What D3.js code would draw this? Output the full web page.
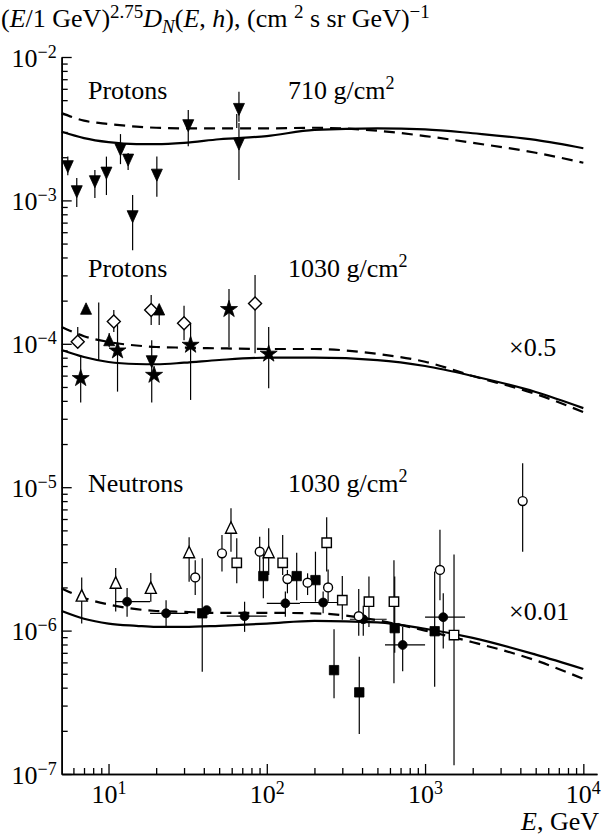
<!DOCTYPE html>
<html>
<head>
<meta charset="utf-8">
<script src="https://cdn.jsdelivr.net/npm/d3@7"></script>
<style>
body { margin: 0; background: #fff; }
text { font-family: "Liberation Serif", "Times New Roman", serif; fill: #000; }
</style>
</head>
<body>
<div id="chart-area"></div>
<script>
// ---- data ----
// model curves, sampled at these energies (GeV)
var curveE = [5.06, 7, 10, 15, 20, 30, 50, 100, 200, 500, 1000, 2000, 5000, 10000];
var c710Solid = [3.01e-3, 2.72e-3, 2.55e-3, 2.47e-3, 2.47e-3, 2.52e-3, 2.67e-3, 2.81e-3, 3.10e-3, 3.18e-3, 3.13e-3, 2.94e-3, 2.64e-3, 2.31e-3];
var c710Dash = [4.06e-3, 3.60e-3, 3.41e-3, 3.27e-3, 3.21e-3, 3.18e-3, 3.18e-3, 3.18e-3, 3.21e-3, 3.06e-3, 2.81e-3, 2.52e-3, 2.15e-3, 1.83e-3];
var c1030Solid = [9.06e-5, 8.09e-5, 7.47e-5, 7.23e-5, 7.2e-5, 7.38e-5, 7.71e-5, 8.0e-5, 8.0e-5, 7.7e-5, 7.0e-5, 5.96e-5, 4.61e-5, 3.56e-5];
var c1030Dash = [1.31e-4, 1.13e-4, 1.03e-4, 9.73e-5, 9.5e-5, 9.4e-5, 9.3e-5, 9.2e-5, 9.2e-5, 8.5e-5, 7.5e-5, 5.96e-5, 4.47e-5, 3.34e-5];
var cNeutSolid = [1.37e-6, 1.21e-6, 1.12e-6, 1.08e-6, 1.06e-6, 1.06e-6, 1.08e-6, 1.12e-6, 1.17e-6, 1.14e-6, 1.03e-6, 8.9e-7, 6.8e-7, 5.4e-7];
var cNeutDash = [1.97e-6, 1.69e-6, 1.52e-6, 1.41e-6, 1.37e-6, 1.35e-6, 1.33e-6, 1.33e-6, 1.32e-6, 1.18e-6, 1.00e-6, 8.3e-7, 6.2e-7, 4.6e-7];

// measurements: [E, value, lower, upper]  (protons 710 g/cm2)
var p710Down = [
    [5.53, 1.72e-3, 1.50e-3, 2.02e-3], [6.3, 1.15e-3, 9.0e-4, 1.43e-3],
    [8.2, 1.35e-3, 1.04e-3, 1.63e-3], [9.7, 1.55e-3, 1.09e-3, 2.02e-3],
    [11.9, 2.25e-3, 1.79e-3, 2.9e-3], [13.3, 1.91e-3, 1.63e-3, 2.14e-3],
    [14.2, 7.7e-4, 4.5e-4, 1.09e-3], [20.2, 1.50e-3, 1.06e-3, 2.02e-3],
    [31.9, 3.32e-3, 2.39e-3, 4.27e-3], [66.7, 4.31e-3, 3.54e-3, 5.73e-3],
    [66.7, 2.47e-3, 1.39e-3, 3.47e-3]
];
var p710Bars = [[64.6, 3.2e-3, 4.0e-3]];

// protons 1030 g/cm2 (x0.5)
var p1030Diamond = [
    [6.39, 1.035e-4, 9.5e-5, 1.31e-4], [10.8, 1.43e-4, 1.21e-4, 1.72e-4],
    [18.6, 1.72e-4, 1.35e-4, 2.19e-4], [30.0, 1.39e-4, 1.06e-4, 1.84e-4],
    [84.3, 1.91e-4, 8.6e-5, 3.02e-4]
];
var p1030Up = [[7.21, 1.74e-4, null, null], [10.1, 1.05e-4, 9.5e-5, 1.19e-4], [20.9, 1.72e-4, 1.35e-4, 1.87e-4]];
var p1030Star = [
    [6.67, 5.74e-5, 3.9e-5, 8.35e-5], [11.4, 8.95e-5, 4.64e-5, 1.35e-4],
    [19.4, 6.05e-5, null, null], [33.0, 9.8e-5, 4.06e-5, 1.40e-4],
    [57.7, 1.74e-4, 9.46e-5, 2.41e-4], [102.8, 8.5e-5, 4.9e-5, 1.31e-4]
];
var p1030Down = [[18.75, 7.5e-5, 3.9e-5, 1.06e-4]];
var p1030Bars = [[8.67, 7.7e-5, 1.94e-4]];

// neutrons 1030 g/cm2 (x0.01)
var nOpenTri = [
    [6.77, 1.74e-6, 1.12e-6, 2.35e-6], [11.1, 2.14e-6, 1.36e-6, 2.73e-6],
    [18.5, 1.97e-6, 1.59e-6, 2.52e-6], [32.3, 3.49e-6, 2.19e-6, 4.48e-6],
    [59.4, 5.17e-6, 3.55e-6, 7.13e-6], [102.8, 3.49e-6, 2.44e-6, 5.17e-6]
];
// [E, value, lower, upper, Elow, Ehigh]
var nFilledCircle = [
    [13.1, 1.59e-6, 1.25e-6, 1.98e-6, 11.0, 18.3], [23.1, 1.32e-6, 1.06e-6, 1.63e-6, 18.3, 31.9],
    [41.7, 1.39e-6, null, null, null, null], [72.4, 1.26e-6, 9.8e-7, 1.59e-6, 55.8, 99.9],
    [131, 1.55e-6, 1.25e-6, 1.87e-6, 100, 162], [227, 1.57e-6, 1.32e-6, 1.87e-6, 162, 297],
    [407, 1.20e-6, 9.2e-7, 1.49e-6, 335, 572], [722, 7.94e-7, 5.2e-7, 1.06e-6, 558, 1000],
    [1303, 1.24e-6, 7.5e-7, 1.82e-6, 1000, 1789]
];
var nFilledSquare = [
    [39.1, 1.32e-6, 5.17e-7, 3.2e-6], [95.1, 2.40e-6, 1.68e-6, 3.55e-6],
    [154.5, 2.40e-6, 1.63e-6, 3.49e-6], [203, 2.25e-6, 1.59e-6, 3.55e-6],
    [266, 5.3e-7, 3.37e-7, 1.02e-6], [384, 3.71e-7, 1.9e-7, 6.58e-7],
    [643, 1.04e-6, 7.0e-7, 2.38e-6], [1150, 9.9e-7, 4.06e-7, 2.58e-6]
];
var nOpenSquare = [
    [64.6, 2.97e-6, 2.14e-6, 4.4e-6], [126, 2.97e-6, 2.44e-6, 4.65e-6],
    [239, 4.10e-6, 2.58e-6, 6.17e-6], [300, 1.63e-6, 1.19e-6, 2.40e-6],
    [442, 1.59e-6, 1.06e-6, 2.38e-6], [636, 1.59e-6, 4.3e-7, 3.1e-6],
    [1524, 9.3e-7, 1.15e-7, 3.4e-6]
];
var nOpenCircle = [
    [35.3, 2.35e-6, 1.77e-6, 3.1e-6], [52.1, 3.46e-6, 2.58e-6, 4.65e-6],
    [90.2, 3.55e-6, 2.38e-6, 4.52e-6], [135, 2.29e-6, 1.82e-6, 2.65e-6],
    [181, 2.16e-6, 1.77e-6, 2.51e-6], [244, 2.0e-6, 1.59e-6, 2.67e-6],
    [381, 1.26e-6, 9.2e-7, 1.95e-6], [1242, 2.65e-6, 1.63e-6, 5.04e-6],
    [4137, 8.0e-6, 3.55e-6, 1.47e-5]
];

var yMajor = [1e-7, 1e-6, 1e-5, 1e-4, 1e-3, 1e-2];
var xMajor = [10, 100, 1000, 10000];

// ---- layout ----
var W = 602, H = 838;
var plotL = 61.7, plotR = 597, plotT = 57, plotB = 774;

var svg = d3.select("#chart-area").append("svg")
    .attr("width", W)
    .attr("height", H);

var x = d3.scaleLog().domain([5.06, 12200]).range([plotL, plotR]);
var y = d3.scaleLog().domain([1e-7, 1e-2]).range([plotB, plotT]);

// minor ticks
var yMinor = [];
for (var p = -7; p < -2; p++) for (var k = 2; k <= 9; k++) yMinor.push(k * Math.pow(10, p));
var xMinor = [];
for (var q = 0; q < 4; q++) for (var m = 2; m <= 9; m++) {
    var v = m * Math.pow(10, q);
    if (v > 5.06 && v < 12200) xMinor.push(v);
}

function styleAxis(sel) {
    sel.select(".domain").attr("stroke", "#000").attr("stroke-width", 1.6);
    sel.selectAll(".tick line").attr("stroke", "#000").attr("stroke-width", 1.3);
}

svg.append("g").attr("transform", "translate(" + plotL + ",0)")
    .call(d3.axisLeft(y).tickValues(yMinor).tickSize(-6).tickSizeOuter(0).tickFormat(""))
    .call(styleAxis);
var yAx = svg.append("g").attr("transform", "translate(" + plotL + ",0)")
    .call(d3.axisLeft(y).tickValues(yMajor).tickSize(-10).tickSizeOuter(0).tickPadding(6))
    .call(styleAxis);
yAx.selectAll(".tick text").each(function (d) {
    var t = d3.select(this).text(null)
        .attr("font-size", "26px").attr("x", -5).attr("dy", "0.35em");
    t.append("tspan").text("10");
    t.append("tspan").attr("dy", "-0.5em").attr("font-size", "18px")
        .text("\u2212" + Math.round(-Math.log10(d)));
});

svg.append("g").attr("transform", "translate(0," + plotB + ")")
    .call(d3.axisBottom(x).tickValues(xMinor).tickSize(-6).tickSizeOuter(0).tickFormat(""))
    .call(styleAxis);
var xAx = svg.append("g").attr("transform", "translate(0," + plotB + ")")
    .call(d3.axisBottom(x).tickValues(xMajor).tickSize(-10).tickSizeOuter(0))
    .call(styleAxis);
xAx.selectAll(".tick text").each(function (d) {
    var t = d3.select(this).text(null)
        .attr("font-size", "26px").attr("y", 29).attr("dy", 0);
    if (d === 10000) t.attr("text-anchor", "end").attr("x", 17);
    t.append("tspan").text("10");
    t.append("tspan").attr("dy", "-0.5em").attr("font-size", "18px")
        .text(Math.round(Math.log10(d)));
});

// axis titles
var title = svg.append("text").attr("x", 1).attr("y", 27).attr("font-size", "26px");
title.append("tspan").text("(");
title.append("tspan").attr("font-style", "italic").text("E");
title.append("tspan").text("/1 GeV)");
title.append("tspan").attr("dy", -9).attr("font-size", "19px").text("2.75");
title.append("tspan").attr("dy", 9).attr("font-style", "italic").text("D");
title.append("tspan").attr("dy", 6).attr("font-size", "19px").attr("font-style", "italic").text("N");
title.append("tspan").attr("dy", -6).text("(");
title.append("tspan").attr("font-style", "italic").text("E");
title.append("tspan").text(", ");
title.append("tspan").attr("font-style", "italic").text("h");
title.append("tspan").text("), (cm ");
title.append("tspan").attr("dy", -9).attr("font-size", "19px").text("2");
title.append("tspan").attr("dy", 9).text(" s sr GeV)");
title.append("tspan").attr("dy", -9).attr("font-size", "19px").text("\u22121");

var xt = svg.append("text").attr("x", 599).attr("y", 830)
    .attr("text-anchor", "end").attr("font-size", "26px");
xt.append("tspan").attr("font-style", "italic").text("E");
xt.append("tspan").text(", GeV");

// panel labels
function label(tx, ty, main, sup) {
    var t = svg.append("text").attr("x", tx).attr("y", ty).attr("font-size", "26px");
    t.append("tspan").text(main);
    if (sup) t.append("tspan").attr("dy", -10).attr("font-size", "18px").text(sup);
}
label(88, 99, "Protons");
label(288, 99, "710 g/cm", "2");
label(88, 277, "Protons");
label(288, 277, "1030 g/cm", "2");
label(509, 356, "\u00d70.5");
label(88, 492, "Neutrons");
label(288, 492, "1030 g/cm", "2");
label(509, 620, "\u00d70.01");

// ---- curves ----
var line = d3.line()
    .x(function (d) { return x(d[0]); })
    .y(function (d) { return y(d[1]); })
    .curve(d3.curveMonotoneX);
function curve(vals, dashed) {
    svg.append("path")
        .datum(curveE.map(function (e, i) { return [e, vals[i]]; }))
        .attr("d", line)
        .attr("fill", "none")
        .attr("stroke", "#000")
        .attr("stroke-width", 2.2)
        .attr("stroke-dasharray", dashed ? "11,7" : null);
}
curve(c710Solid, false); curve(c710Dash, true);
curve(c1030Solid, false); curve(c1030Dash, true);
curve(cNeutSolid, false); curve(cNeutDash, true);

// ---- error bars and markers ----
var bars = svg.append("g").attr("stroke", "#000").attr("stroke-width", 1.2);
function vbar(d) {
    if (d[2] == null) return;
    bars.append("line")
        .attr("x1", x(d[0])).attr("x2", x(d[0]))
        .attr("y1", y(d[2])).attr("y2", y(d[3]));
}
function hbar(d) {
    if (d[4] == null) return;
    bars.append("line")
        .attr("x1", x(d[4])).attr("x2", x(d[5]))
        .attr("y1", y(d[1])).attr("y2", y(d[1]));
}
[p710Bars, p1030Bars].forEach(function (arr) {
    arr.forEach(function (d) { vbar([d[0], null, d[1], d[2]]); });
});

var shapes = {
    down: "M-5.5,-6L5.5,-6L0,6Z",
    up: "M-5.5,5L5.5,5L0,-6.5Z",
    diamond: "M0,-6.5L6.5,0L0,6.5L-6.5,0Z",
    square: "M-4.7,-4.7H4.7V4.7H-4.7Z",
    circle: d3.symbol(d3.symbolCircle, 62)(),
    star: d3.symbol(d3.symbolStar, 90)()
};
var marks = svg.append("g");
function series(arr, shape, filled) {
    arr.forEach(function (d) { vbar(d); hbar(d); });
    marks.selectAll(null)
        .data(arr)
        .enter()
        .append("path")
        .attr("d", shapes[shape])
        .attr("transform", function (d) { return "translate(" + x(d[0]) + "," + y(d[1]) + ")"; })
        .attr("fill", filled ? "#000" : "#fff")
        .attr("stroke", "#000")
        .attr("stroke-width", filled ? 0.8 : 1.4);
}
series(p710Down, "down", true);
series(p1030Diamond, "diamond", false);
series(p1030Up, "up", true);
series(p1030Star, "star", true);
series(p1030Down, "down", true);
series(nOpenTri, "up", false);
series(nFilledCircle, "circle", true);
series(nFilledSquare, "square", true);
series(nOpenSquare, "square", false);
series(nOpenCircle, "circle", false);
</script>
</body>
</html>
